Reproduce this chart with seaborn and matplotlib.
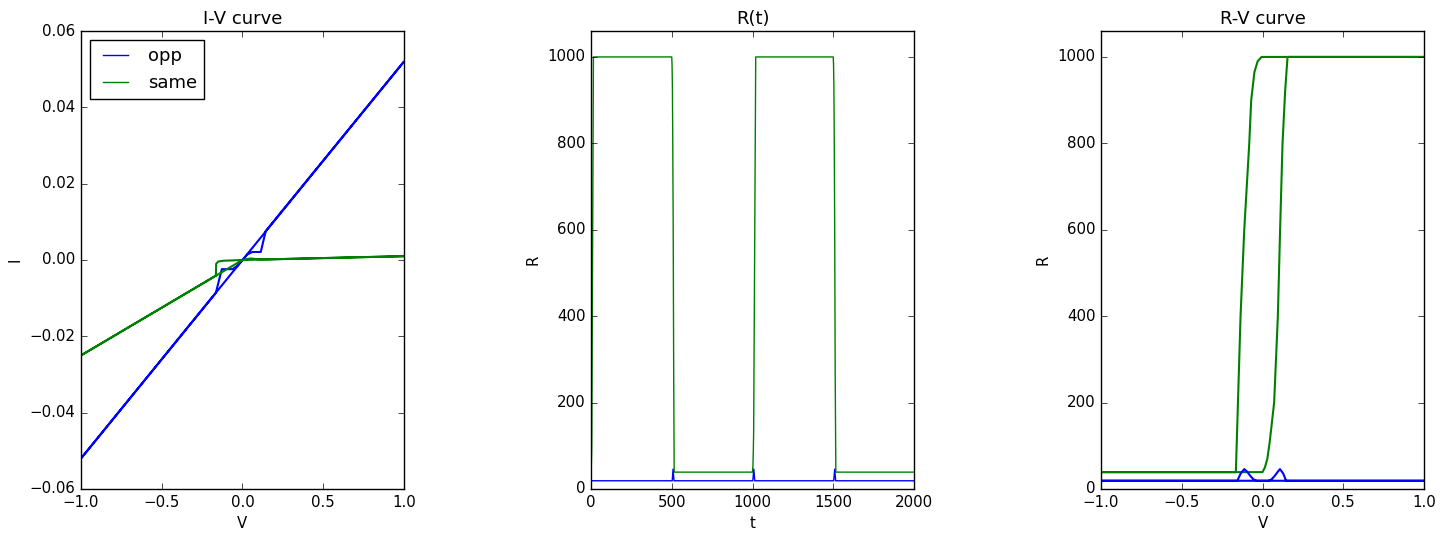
import matplotlib
matplotlib.use("Agg")
import matplotlib.pyplot as plt
import seaborn as sns
import numpy as np

# ---- data (vertices of each traced curve) ----

# I-V curve
V_iv_opp = [-1.0, 1.0, 0.144, 0.113, 0.062, 0.031, -0.031, -0.062, -0.128, -0.165, -1.0]
I_iv_opp = [-0.052, 0.052, 0.0076, 0.0021, 0.0021, 0.0015, -0.0015, -0.0024, -0.0024, -0.0086, -0.052]

V_iv_same = [0.0, 0.05, 0.10, 0.155, 1.0, 0.0, -0.06, -0.12, -0.15, -0.163, -0.165, -1.0, 0.0]
I_iv_same = [0.0, 0.0004, 0.0002, 0.00016, 0.0010, 0.0, -0.0001, -0.0002, -0.0004, -0.0010, -0.0041, -0.025, 0.0]

# R(t)
t_opp = [0, 503, 508, 514, 1002, 1008, 1014, 1503, 1509, 1515, 2000]
R_t_opp = [19, 19, 46, 19, 19, 46, 19, 19, 46, 19, 19]

t_same = [0, 2, 4, 5, 15, 500, 502, 504, 506, 509, 512, 515,
          1000, 1003, 1005, 1007, 1020, 1500, 1502, 1504, 1506, 1509, 1512, 1516, 2000]
R_t_same = [39, 57, 88, 127, 1000, 1000, 980, 930, 820, 600, 270, 39,
            39, 57, 88, 127, 1000, 1000, 980, 930, 820, 600, 270, 39, 39]

# R-V curve
V_rv_opp = [-1.0, 1.0, 0.146, 0.128, 0.108, 0.095, 0.075, 0.055, 0.036,
            -0.036, -0.055, -0.075, -0.095, -0.113, -0.135, -0.156, -1.0]
R_rv_opp = [19, 19, 19, 36, 46, 40, 30, 22, 19, 19, 22, 30, 40, 46, 36, 19, 19]

V_rv_same = [-1.0, 0.0, 0.015, 0.030, 0.045, 0.060, 0.072, 0.095, 0.109, 0.124, 0.140, 0.155, 1.0,
             -0.006, -0.030, -0.050, -0.070, -0.082, -0.113, -0.136, -0.152, -0.165, -1.0]
R_rv_same = [39, 39, 50, 70, 110, 160, 200, 400, 600, 800, 920, 1000, 1000,
             1000, 990, 965, 900, 800, 600, 400, 200, 39, 39]

# ---- style ----
plt.style.use("classic")
plt.rcParams["font.family"] = ["DejaVu Sans"]
plt.rcParams["font.size"] = 10.8
plt.rcParams["figure.facecolor"] = "white"
plt.rcParams["savefig.facecolor"] = "white"

fig, ax = plt.subplots(1, 3, figsize=(14.51, 5.33), dpi=100)
fig.subplots_adjust(left=81/1451, right=1424/1451, bottom=0.0826, top=0.9418, wspace=0.579)

# I-V
sns.lineplot(x=np.array(V_iv_opp), y=np.array(I_iv_opp), sort=False, estimator=None,
             color="b", lw=1.5, label="opp", ax=ax[0])
sns.lineplot(x=np.array(V_iv_same), y=np.array(I_iv_same), sort=False, estimator=None,
             color="g", lw=1.5, label="same", ax=ax[0])
ax[0].set_yticks([-0.06, -0.04, -0.02, 0.0, 0.02, 0.04, 0.06])
ax[0].set_xlim(-1, 1)
ax[0].set_ylim(-0.06, 0.06)
ax[0].set_xlabel("V")
ax[0].set_ylabel("I")
ax[0].set_title("I-V curve")
leg = ax[0].legend(loc="upper left")
for ln in leg.get_lines():
    ln.set_linewidth(1.0)

# R(t)
sns.lineplot(x=np.array(t_same), y=np.array(R_t_same), sort=False, estimator=None,
             color="g", lw=1.0, ax=ax[1])
sns.lineplot(x=np.array(t_opp), y=np.array(R_t_opp), sort=False, estimator=None,
             color="b", lw=1.0, ax=ax[1])
ax[1].set_yticks([0, 200, 400, 600, 800, 1000])
ax[1].set_xlim(0, 2000)
ax[1].set_ylim(0, 1060)
ax[1].set_xlabel("t")
ax[1].set_ylabel("R")
ax[1].set_title("R(t)")

# R-V
sns.lineplot(x=np.array(V_rv_same), y=np.array(R_rv_same), sort=False, estimator=None,
             color="g", lw=1.5, ax=ax[2])
sns.lineplot(x=np.array(V_rv_opp), y=np.array(R_rv_opp), sort=False, estimator=None,
             color="b", lw=1.5, ax=ax[2])
ax[2].set_yticks([0, 200, 400, 600, 800, 1000])
ax[2].set_xlim(-1, 1)
ax[2].set_ylim(0, 1060)
ax[2].set_xlabel("V")
ax[2].set_ylabel("R")
ax[2].set_title("R-V curve")

plt.savefig("out.png", dpi=100)
